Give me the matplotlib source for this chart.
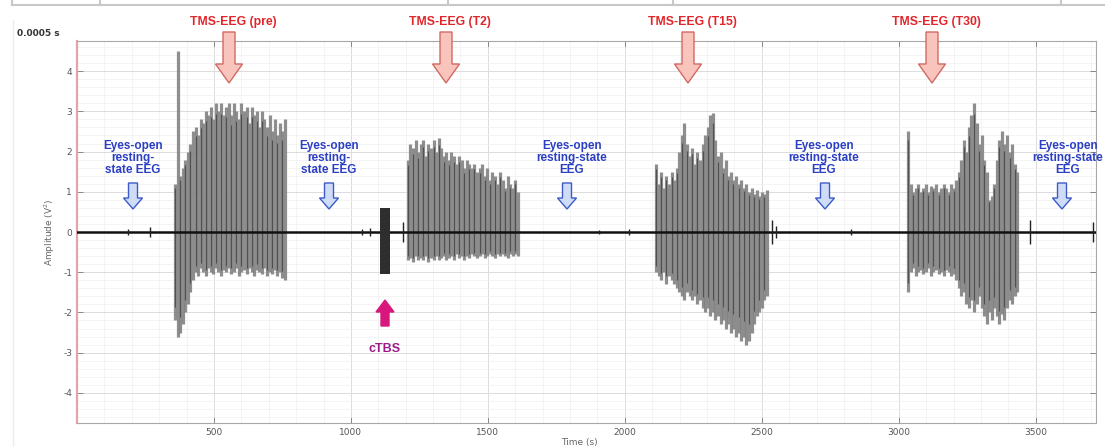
import numpy as np
import matplotlib
matplotlib.use('Agg')
import matplotlib.pyplot as plt
from matplotlib.patches import FancyArrow
from matplotlib.transforms import IdentityTransform
from matplotlib.ticker import MultipleLocator

plt.rcParams['axes.unicode_minus'] = False

# ---------------- data ----------------
x_ticks = [500, 1000, 1500, 2000, 2500, 3000, 3500]
y_ticks = [-4, -3, -2, -1, 0, 1, 2, 3, 4]
x_range = [0, 3720]
y_range = [-4.75, 4.75]

block_labels = ['TMS-EEG (pre)', 'TMS-EEG (T2)', 'TMS-EEG (T15)', 'TMS-EEG (T30)']
block_start = [358, 1208, 2114, 3034]
block_end = [759, 1610, 2519, 3432]

pre_pos = [1.2, 4.5, 1.4, 1.6, 1.8, 2.0, 2.2, 2.5, 2.6, 2.4, 2.8, 2.7, 3.0, 2.9, 3.1,
           2.8, 3.2, 3.0, 3.2, 2.9, 3.1, 3.2, 2.9, 3.2, 3.0, 2.8, 3.2, 3.0, 3.1, 2.7,
           3.1, 2.9, 3.0, 2.6, 3.0, 2.8, 2.6, 2.9, 2.5, 2.8, 2.4, 2.7, 2.5, 2.8]
pre_neg = [-2.2, -2.6, -2.5, -2.3, -2.0, -1.8, -1.5, -1.2, -1.0, -1.1, -0.9, -1.0, -1.1,
           -0.9, -1.0, -1.05, -0.9, -1.0, -1.1, -0.95, -1.0, -0.9, -1.05, -1.0, -0.9,
           -1.1, -1.0, -0.95, -1.05, -0.9, -1.0, -1.1, -0.95, -1.0, -1.05, -0.9, -1.1,
           -1.0, -1.05, -0.95, -1.1, -1.0, -1.15, -1.2]

t2_pos = [1.8, 2.2, 2.1, 2.3, 2.0, 2.2, 2.3, 1.9, 2.2, 2.1, 2.3, 2.0, 2.35, 2.1, 1.9,
          2.0, 1.8, 2.0, 1.9, 1.7, 1.9, 1.8, 1.6, 1.8, 1.7, 1.6, 1.7, 1.5, 1.6, 1.7,
          1.4, 1.6, 1.3, 1.5, 1.4, 1.2, 1.5, 1.3, 1.1, 1.4, 1.2, 1.1, 1.3, 1.0]
t2_neg = [-0.7, -0.65, -0.75, -0.6, -0.7, -0.65, -0.7, -0.6, -0.75, -0.65, -0.7, -0.6,
          -0.7, -0.65, -0.6, -0.7, -0.65, -0.6, -0.7, -0.55, -0.65, -0.6, -0.7, -0.6,
          -0.65, -0.55, -0.6, -0.65, -0.6, -0.55, -0.65, -0.6, -0.55, -0.6, -0.65,
          -0.55, -0.6, -0.55, -0.6, -0.65, -0.55, -0.6, -0.55, -0.6]

t15_pos = [1.7, 1.2, 1.5, 1.1, 1.4, 1.2, 1.5, 1.3, 1.6, 2.0, 2.4, 2.7, 2.2, 1.9, 2.1,
           1.7, 2.0, 1.8, 2.2, 2.4, 2.6, 2.9, 2.95, 2.3, 1.9, 2.0, 1.6, 1.8, 1.4, 1.5,
           1.3, 1.4, 1.2, 1.3, 1.1, 1.2, 1.0, 1.1, 0.95, 1.05, 0.9, 1.0, 0.95, 1.05]
t15_neg = [-1.0, -1.1, -1.2, -1.0, -1.3, -1.1, -1.2, -1.3, -1.4, -1.5, -1.6, -1.7, -1.5,
           -1.6, -1.7, -1.6, -1.8, -1.7, -1.9, -2.0, -1.9, -2.1, -2.0, -2.2, -2.1, -2.3,
           -2.2, -2.4, -2.3, -2.5, -2.4, -2.6, -2.5, -2.7, -2.6, -2.8, -2.7, -2.5, -2.3,
           -2.1, -2.0, -1.9, -1.7, -1.6]

t30_pos = [2.5, 1.2, 1.0, 1.1, 1.2, 1.0, 1.1, 1.2, 1.0, 1.15, 1.1, 1.2, 1.0, 1.1, 1.2,
           1.1, 1.0, 1.2, 1.1, 1.3, 1.5, 1.8, 2.3, 2.0, 2.6, 2.9, 3.2, 2.7, 2.2, 2.4,
           1.8, 1.5, 0.8, 0.9, 1.2, 1.8, 2.3, 2.5, 2.2, 2.4, 2.0, 2.2, 1.7, 1.5]
t30_neg = [-1.5, -1.0, -0.9, -1.1, -1.0, -0.95, -1.05, -1.0, -0.9, -1.1, -1.0, -0.95,
           -1.05, -1.0, -1.1, -0.95, -1.0, -1.1, -1.05, -1.2, -1.4, -1.6, -1.5, -1.8,
           -1.9, -1.7, -2.0, -1.8, -1.6, -1.9, -2.1, -2.3, -2.0, -2.2, -1.9, -2.1,
           -2.3, -2.05, -2.2, -1.9, -1.7, -1.8, -1.6, -1.5]

ctbs_start, ctbs_end = 1106, 1143
ctbs_max, ctbs_min = 0.6, -1.05

baseline_t = [0, 3720]
baseline_v = [0, 0]
blip_t = [186, 266, 1041, 1070, 1190, 1905, 2015, 2537, 2550, 2826, 3480, 3710]
blip_amp = [0.08, 0.12, 0.08, 0.1, 0.25, 0.06, 0.08, 0.3, 0.15, 0.08, 0.3, 0.25]

rest_labels = ['Eyes-open\nresting-\nstate EEG', 'Eyes-open\nresting-\nstate EEG',
               'Eyes-open\nresting-state\nEEG', 'Eyes-open\nresting-state\nEEG',
               'Eyes-open\nresting-state\nEEG']

# ---------------- figure ----------------
W, H = 1105, 447
fig = plt.figure(figsize=(W / 100, H / 100), dpi=100)
fig.patch.set_facecolor('white')
ax = fig.add_axes([77 / W, (H - 423) / H, (1096 - 77) / W, (423 - 41) / H])

ax.set_xlim(*x_range)
ax.set_ylim(*y_range)
ax.set_xticks(x_ticks)
ax.set_yticks(y_ticks)
ax.xaxis.set_minor_locator(MultipleLocator(100))
ax.yaxis.set_minor_locator(MultipleLocator(0.2))
ax.grid(which='major', color='#dcdcdc', lw=0.7)
ax.grid(which='minor', color='#f0f0f0', lw=0.5)
ax.set_axisbelow(True)
ax.tick_params(which='major', direction='in', length=4, width=0.7, color='#888888',
               labelsize=6.5, labelcolor='#555555', top=True, right=True)
ax.tick_params(which='minor', length=0)
for s in ['top', 'right', 'bottom']:
    ax.spines[s].set_color('#a8a8a8')
    ax.spines[s].set_linewidth(0.8)
ax.spines['left'].set_color('#e2a4a4')
ax.spines['left'].set_linewidth(1.6)

# signal
ax.plot(baseline_t, baseline_v, color='#111111', lw=1.8, zorder=3)
ax.vlines(blip_t, [-a for a in blip_amp], blip_amp, color='#222222', lw=1.0, zorder=3)

pos_list = [pre_pos, t2_pos, t15_pos, t30_pos]
neg_list = [pre_neg, t2_neg, t15_neg, t30_neg]
for s, e, p, n in zip(block_start, block_end, pos_list, neg_list):
    tt = np.linspace(s, e, len(p))
    ax.vlines(tt, n, p, color='#828282', lw=2.3, alpha=0.9, zorder=2)
    ax.vlines(tt[::2], np.array(n)[::2] * 0.85, np.array(p)[::2] * 0.92,
              color='#505050', lw=0.8, zorder=2)

ax.bar([(ctbs_start + ctbs_end) / 2], [ctbs_max - ctbs_min], bottom=[ctbs_min],
       width=ctbs_end - ctbs_start, color='#2e2e2e', zorder=3)

# ---------------- annotations (pixel positions) ----------------
ID = IdentityTransform()


def ftext(x, y, s, **kw):
    fig.text(x / W, 1 - y / H, s, **kw)


def farrow(x, y0, y1, width, hw, hl, fc, ec, lw=1.0):
    a = FancyArrow(x, H - y0, 0, -(y1 - y0), width=width, head_width=hw,
                   head_length=hl, length_includes_head=True, transform=ID,
                   fc=fc, ec=ec, lw=lw)
    fig.add_artist(a)


tms_x = [229, 446, 688, 932]
for lab, xx in zip(block_labels, tms_x):
    ftext(xx + 4, 22, lab, ha='center', va='center', color='#e0262a',
          fontsize=8.8, fontweight='bold', family='Liberation Sans')
    farrow(xx, 32, 83, 12, 27, 19, '#f8c4bc', '#d06a64', 1.0)

rest_x = [133, 329, 572, 824, 1068]
rest_arrow_x = [133, 329, 567, 825, 1062]
for lab, xx, ax_ in zip(rest_labels, rest_x, rest_arrow_x):
    ftext(xx, 158, lab, ha='center', va='center', color='#2b3fc4',
          fontsize=8.5, fontweight='bold', family='Liberation Sans', linespacing=1.05)
    farrow(ax_, 183, 209, 9, 19, 11, '#cfdcf6', '#3d5bc8', 1.0)

# cTBS arrow (up)
a = FancyArrow(385, H - 326, 0, 26, width=8, head_width=18, head_length=12,
               length_includes_head=True, transform=ID, fc='#d8177c', ec='#d8177c')
fig.add_artist(a)
ftext(385, 349, 'cTBS', ha='center', va='center', color='#9c1a8c', fontsize=9,
      fontweight='bold', family='Liberation Sans')

# axis labels
ftext(50, 232, 'Amplitude (V$^2$)', ha='center', va='center', rotation=90,
      color='#666666', fontsize=6.5)
ftext(579, 443, 'Time (s)', ha='center', va='center', color='#666666', fontsize=6.5)
ftext(17, 34, '0.0005 s', ha='left', va='center', color='#333333', fontsize=6.5,
      fontweight='bold')

# top border fragment
fig.add_artist(plt.Line2D([12 / W, 1], [1 - 4.5 / H, 1 - 4.5 / H], color='#c8c8c8',
                          lw=1.5, transform=fig.transFigure))
for vx in [12, 100, 448, 673, 1061]:
    fig.add_artist(plt.Line2D([vx / W, vx / W], [1, 1 - 4.5 / H], color='#c8c8c8',
                              lw=1.5, transform=fig.transFigure))
fig.add_artist(plt.Line2D([13 / W, 13 / W], [1 - 20 / H, 0], color='#ececec',
                          lw=1.0, transform=fig.transFigure))

fig.savefig('out.png', dpi=100)
